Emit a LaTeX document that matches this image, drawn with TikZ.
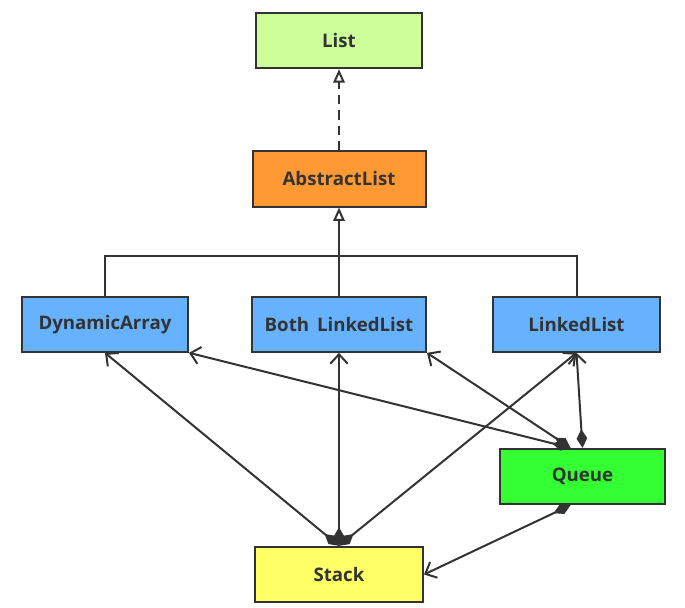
\documentclass[tikz,border=0pt]{standalone}
\usepackage{fontspec}
\setmainfont{Open Sans}
\usetikzlibrary{arrows.meta, positioning, calc}
\definecolor{ink}{HTML}{333333}
\definecolor{listgreen}{HTML}{CCFF99}
\definecolor{absorange}{HTML}{FF9933}
\definecolor{implblue}{HTML}{66B2FF}
\definecolor{queuegreen}{HTML}{33FF33}
\definecolor{stackyellow}{HTML}{FFFF66}
\begin{document}
\begin{tikzpicture}[
  x=0.75pt, y=-0.75pt,
  node distance=66pt and 46.5pt,
  cls/.style={draw=ink, line width=1.5pt, minimum width=124.5pt, minimum height=41.5pt, inner sep=2pt, align=center, text=ink, font=\bfseries\fontsize{14}{16}\selectfont},
  ln/.style={draw=ink, line width=1.5pt},
  impl/.style={ln, dash pattern=on 7pt off 4.5pt, -{Triangle[open, fill=white, length=10pt, width=8.5pt]}},
  inh/.style={ln, -{Triangle[open, fill=white, length=10pt, width=8.5pt]}},
  agg/.style={ln, {Diamond[length=14pt, width=8pt]}-{Straight Barb[length=7pt, width=13pt]}}
]
\useasboundingbox (0,0) rectangle (685,607);
\node[cls, fill=listgreen] (list) at (339,40.5) {List};
\node[cls, fill=absorange, minimum width=129.75pt, below=60.75pt of list] (abs) {AbstractList};
\node[cls, fill=implblue, minimum width=130.5pt, below=of abs] (both) {Both\, LinkedList};
\node[cls, fill=implblue, left=of both] (dyn) {DynamicArray};
\node[cls, fill=implblue, minimum width=125.25pt, right=48.75pt of both] (linked) {LinkedList};
\node[cls, fill=queuegreen, minimum width=123.75pt, below=71.25pt of linked, xshift=4.5pt] (queue) {Queue};
\node[cls, fill=stackyellow, minimum width=126pt, below=144.75pt of both] (stack) {Stack};
% inheritance
\draw[impl] (abs) -- (list);
\coordinate (bus) at ($(abs.south)!0.55!(both.north)$);
\draw[ln] (dyn.north) |- (bus) -| (linked.north);
\draw[inh] (both) -- (abs);
% associations
\draw[agg] (stack.north) -- (dyn.south);
\draw[agg] (stack.north) -- (both.south);
\draw[agg] (stack.north) -- (linked.south);
\draw[agg] ([xshift=-9pt]queue.north) -- (dyn.south east);
\draw[agg] ([xshift=-9pt]queue.north) -- (both.south east);
\draw[agg] (queue.north) -- (linked.south);
\draw[agg] ([xshift=-9pt]queue.south) -- (stack.east);
\end{tikzpicture}
\end{document}
